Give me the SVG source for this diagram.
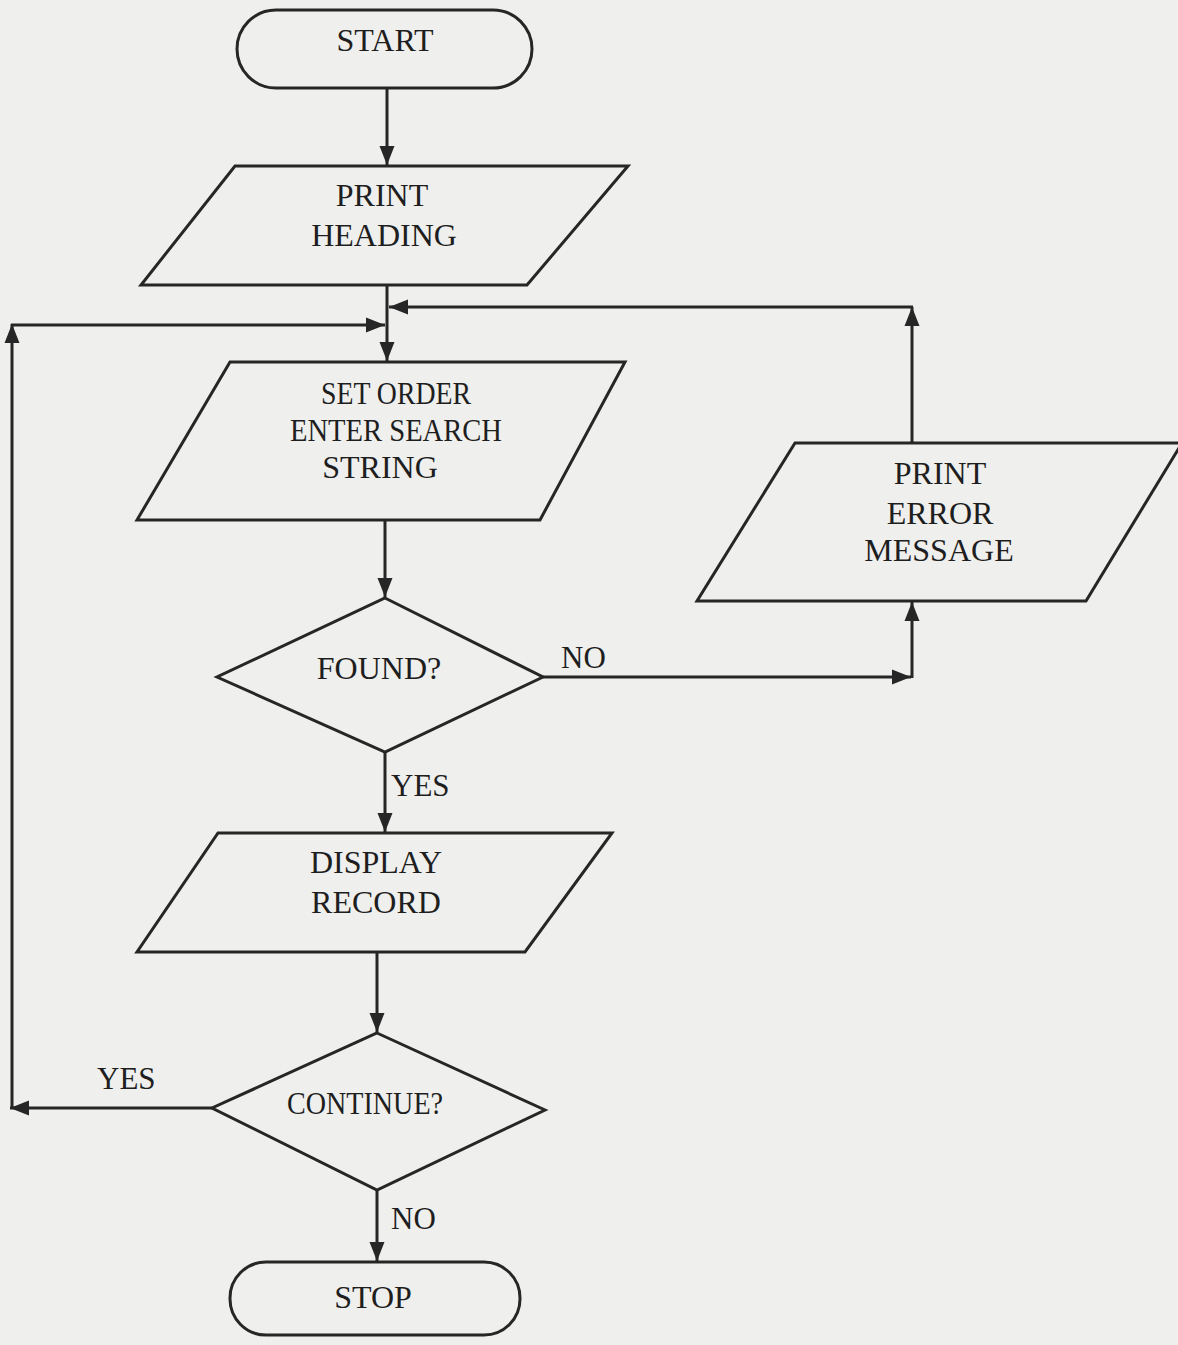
<svg xmlns="http://www.w3.org/2000/svg" width="1178" height="1345" viewBox="0 0 1178 1345">
<style>
.shape{fill:none;stroke:#262626;stroke-width:3;stroke-linejoin:miter}
.conn{fill:none;stroke:#262626;stroke-width:3}
.t{font-family:"Liberation Serif","Times New Roman",serif;font-size:32px;fill:#1e1e1e;text-anchor:middle}
.lbl{font-family:"Liberation Serif","Times New Roman",serif;font-size:31px;fill:#1e1e1e}
</style>
<defs>
<marker id="ah" markerUnits="userSpaceOnUse" markerWidth="22" markerHeight="18" refX="19" refY="9" orient="auto">
<path d="M0,1.5 L19,9 L0,16.5 Z" fill="#262626"/>
</marker>
</defs>
<rect x="0" y="0" width="1178" height="1345" fill="#efefed"/>
<g id="connectors">
<line class="conn" x1="387" y1="88" x2="387" y2="165" marker-end="url(#ah)"/>
<line class="conn" x1="387" y1="285" x2="387" y2="361" marker-end="url(#ah)"/>
<line class="conn" x1="912" y1="443" x2="912" y2="307" marker-end="url(#ah)"/>
<line class="conn" x1="913" y1="307" x2="389" y2="307" marker-end="url(#ah)"/>
<line class="conn" x1="12" y1="1108" x2="12" y2="324" marker-end="url(#ah)"/>
<line class="conn" x1="11" y1="325" x2="385" y2="325" marker-end="url(#ah)"/>
<line class="conn" x1="385" y1="520" x2="385" y2="597" marker-end="url(#ah)"/>
<line class="conn" x1="543" y1="677" x2="911" y2="677" marker-end="url(#ah)"/>
<line class="conn" x1="912" y1="678" x2="912" y2="602" marker-end="url(#ah)"/>
<line class="conn" x1="385" y1="752" x2="385" y2="832" marker-end="url(#ah)"/>
<line class="conn" x1="377" y1="952" x2="377" y2="1032" marker-end="url(#ah)"/>
<line class="conn" x1="212" y1="1108" x2="10" y2="1108" marker-end="url(#ah)"/>
<line class="conn" x1="377" y1="1190" x2="377" y2="1261" marker-end="url(#ah)"/>
<text class="lbl" x="561" y="668">NO</text>
<text class="lbl" x="391" y="796">YES</text>
<text class="lbl" x="97" y="1089">YES</text>
<text class="lbl" x="391" y="1229">NO</text>
</g>
<g id="start">
<rect class="shape" x="237" y="10" width="295" height="78" rx="39" ry="39"/>
<text class="t" x="385" y="51">START</text>
</g>
<g id="print-heading">
<polygon class="shape" points="235,166 628,166 527,285 141,285"/>
<text class="t" x="382" y="206">PRINT</text>
<text class="t" x="384" y="246">HEADING</text>
</g>
<g id="set-order">
<polygon class="shape" points="230,362 625,362 540,520 137,520"/>
<text class="t" x="396" y="404" textLength="150" lengthAdjust="spacingAndGlyphs">SET ORDER</text>
<text class="t" x="396" y="441" textLength="212" lengthAdjust="spacingAndGlyphs">ENTER SEARCH</text>
<text class="t" x="380" y="478">STRING</text>
</g>
<g id="found">
<polygon class="shape" points="385,598 543,677 385,752 217,677"/>
<text class="t" x="379" y="679">FOUND?</text>
</g>
<g id="print-error">
<polygon class="shape" points="795,443 1182,443 1086,601 697,601"/>
<text class="t" x="940" y="484">PRINT</text>
<text class="t" x="940" y="524">ERROR</text>
<text class="t" x="939" y="561">MESSAGE</text>
</g>
<g id="display-record">
<polygon class="shape" points="218,833 612,833 525,952 137,952"/>
<text class="t" x="376" y="873">DISPLAY</text>
<text class="t" x="376" y="913">RECORD</text>
</g>
<g id="continue">
<polygon class="shape" points="377,1033 545,1110 377,1190 212,1108"/>
<text class="t" x="365" y="1114" textLength="156" lengthAdjust="spacingAndGlyphs">CONTINUE?</text>
</g>
<g id="stop">
<rect class="shape" x="230" y="1262" width="290" height="73" rx="36" ry="36"/>
<text class="t" x="373" y="1308">STOP</text>
</g>
</svg>
